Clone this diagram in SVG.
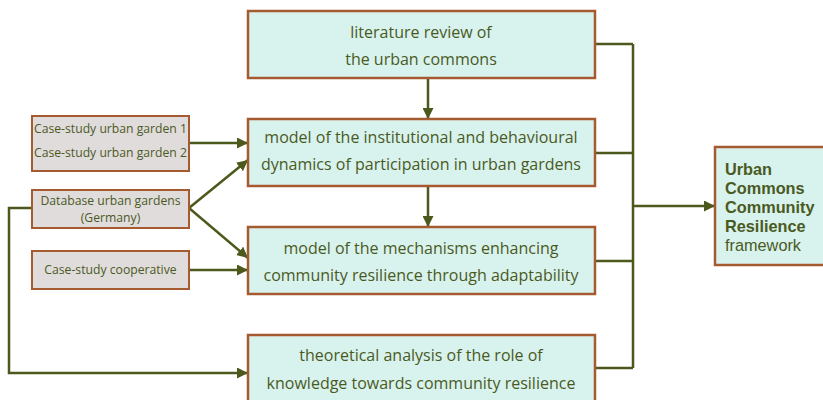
<svg xmlns="http://www.w3.org/2000/svg" width="823" height="400" viewBox="0 0 823 400">
  <style>
    .main { fill: #d8f2ee; stroke: #a65a30; stroke-width: 2.5; }
    .src { fill: #e1dcdc; stroke: #a65a30; stroke-width: 2; }
    .t { font-family: "Open Sans", "Noto Sans", sans-serif; fill: #4a5a1e; text-anchor: middle; }
    .tm { font-size: 16px; }
    .ts { font-size: 12.2px; }
    .tf { font-family: "Liberation Sans", Arial, sans-serif; font-size: 16.3px; text-anchor: start; }
    .b { font-weight: bold; }
    .wire { fill: none; stroke: #4b5a1c; stroke-width: 2.5; }
  </style>
  <defs>
    <marker id="arrow" viewBox="0 0 10 10" refX="10" refY="5" markerWidth="4.4" markerHeight="4.4" orient="auto" markerUnits="strokeWidth">
      <path d="M0,0 L10,5 L0,10 Z" fill="#4b5a1c"/>
    </marker>
  </defs>
  <rect width="823" height="400" fill="#ffffff"/>

  <g id="connectors">
    <path class="wire" d="M428,78 V119" marker-end="url(#arrow)"/>
    <path class="wire" d="M428,186 V227" marker-end="url(#arrow)"/>
    <path class="wire" d="M595,44 H633 M595,153 H633 M595,261 H633 M595,368 H633 M633,44 V368"/>
    <path class="wire" d="M633,206 H715" marker-end="url(#arrow)"/>
    <path class="wire" d="M189,143 H248" marker-end="url(#arrow)"/>
    <path class="wire" d="M189,208 L248,160" marker-end="url(#arrow)"/>
    <path class="wire" d="M189,208 L248,258" marker-end="url(#arrow)"/>
    <path class="wire" d="M189,270 H248" marker-end="url(#arrow)"/>
    <path class="wire" d="M32,208 H9 V373 H248" marker-end="url(#arrow)"/>
  </g>

  <g id="literature">
    <rect class="main" x="248" y="11" width="347" height="67"/>
    <text class="t tm" x="421" y="38">literature review of</text>
    <text class="t tm" x="421" y="65">the urban commons</text>
  </g>
  <g id="participation">
    <rect class="main" x="248" y="119" width="347" height="67"/>
    <text class="t tm" x="421" y="143">model of the institutional and behavioural</text>
    <text class="t tm" x="421" y="170">dynamics of participation in urban gardens</text>
  </g>
  <g id="mechanisms">
    <rect class="main" x="248" y="227" width="347" height="67"/>
    <text class="t tm" x="421" y="254">model of the mechanisms enhancing</text>
    <text class="t tm" x="421" y="281">community resilience through adaptability</text>
  </g>
  <g id="knowledge">
    <rect class="main" x="248" y="335" width="347" height="80"/>
    <text class="t tm" x="421" y="361">theoretical analysis of the role of</text>
    <text class="t tm" x="421" y="389">knowledge towards community resilience</text>
  </g>

  <g id="case-gardens">
    <rect class="src" x="32" y="116" width="157" height="55"/>
    <text class="t ts" x="110.5" y="133">Case-study urban garden 1</text>
    <text class="t ts" x="110.5" y="157">Case-study urban garden 2</text>
  </g>
  <g id="database">
    <rect class="src" x="32" y="190" width="157" height="38"/>
    <text class="t ts" x="110.5" y="205">Database urban gardens</text>
    <text class="t ts" x="110.5" y="222">(Germany)</text>
  </g>
  <g id="cooperative">
    <rect class="src" x="32" y="251" width="157" height="38"/>
    <text class="t ts" x="110.5" y="274">Case-study cooperative</text>
  </g>

  <g id="framework">
    <rect class="main" x="715" y="147" width="120" height="118"/>
    <text class="t tf b" x="725" y="175">Urban</text>
    <text class="t tf b" x="725" y="194">Commons</text>
    <text class="t tf b" x="725" y="213">Community</text>
    <text class="t tf b" x="725" y="232">Resilience</text>
    <text class="t tf" x="725" y="251">framework</text>
  </g>
</svg>
